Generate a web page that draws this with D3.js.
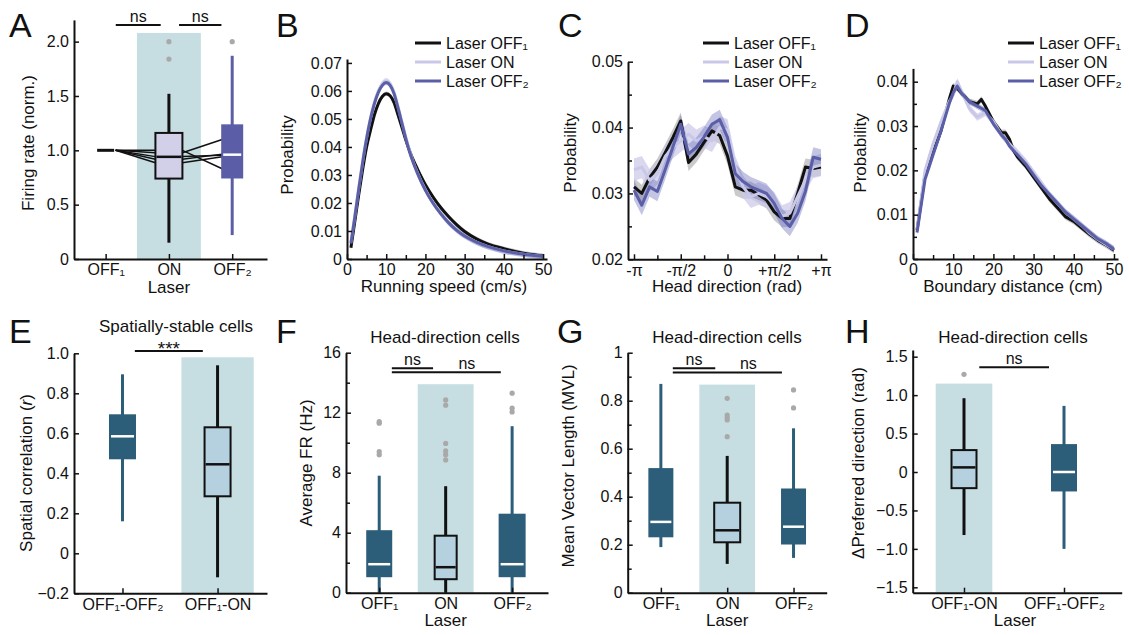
<!DOCTYPE html>
<html lang="en">
<head>
  <meta charset="UTF-8">
  <title>Laser effects on firing and behaviour</title>
  <script src="https://d3js.org/d3.v7.min.js"></script>
  <style>
    body { margin: 0; background: #fff; }
    svg text { font-family: "Liberation Sans", Arial, Helvetica, sans-serif; fill: #111; }
  </style>
</head>
<body>
  <svg id="fig" width="1129" height="635"></svg>
  <script>
    // ---------- data ----------
    const legendNames = ["Laser OFF₁", "Laser ON", "Laser OFF₂"];

    // A: normalised firing rate
    const catsA = ["OFF₁", "ON", "OFF₂"];
    const boxA = [[1, 1, 1, 1, 1], [0.15, 0.74, 0.94, 1.16, 1.52], [0.22, 0.75, 0.96, 1.23, 1.87]]; // lo, q1, med, q3, hi
    const outA = [[], [2.0, 1.84], [2.0]];
    const pairOnA = [1.0, 0.978, 0.942, 0.917, 0.886];
    const pairOff2A = [0.83, 1.10, 0.955, 0.965, 0.94];
    const sigA = [[0.16, 0.87, 2.154, "ns"], [1.16, 1.83, 2.154, "ns"]];

    // B: running speed distributions
    const speedB = [1, 2, 3, 4, 5, 6, 7, 8, 9, 10, 11, 12, 13, 14, 15, 16, 17, 18, 20, 22, 24, 26, 28, 30, 33, 36, 40, 45, 50];
    const off1B = [0.004, 0.0135, 0.023, 0.032, 0.040, 0.046, 0.0515, 0.0555, 0.058, 0.059, 0.0583, 0.0558, 0.0515, 0.047, 0.0425, 0.0385, 0.035, 0.032, 0.0265, 0.022, 0.0182, 0.015, 0.0122, 0.0098, 0.0072, 0.0053, 0.0037, 0.0021, 0.0011];
    const onB = [0.006, 0.0155, 0.0255, 0.035, 0.0435, 0.0505, 0.056, 0.060, 0.0625, 0.0635, 0.0625, 0.0595, 0.0545, 0.049, 0.0435, 0.0385, 0.0342, 0.0307, 0.0247, 0.0199, 0.0161, 0.0129, 0.0103, 0.0083, 0.006, 0.0044, 0.0029, 0.0017, 0.0009];
    const off2B = [0.0055, 0.015, 0.025, 0.0345, 0.043, 0.050, 0.0555, 0.0595, 0.062, 0.063, 0.062, 0.059, 0.054, 0.0485, 0.043, 0.038, 0.034, 0.0305, 0.0245, 0.0198, 0.016, 0.0128, 0.0102, 0.0082, 0.006, 0.0044, 0.0029, 0.0017, 0.0009];
    const semB = [0.0008, 0.0011, 0.0009];

    // C: head direction (bins in units of pi/12)
    const binsC = [-12, -11, -10, -9, -8, -7, -6, -5, -4, -3, -2, -1, 0, 1, 2, 3, 4, 5, 6, 7, 8, 9, 10, 11, 12];
    const off1C = [0.0310, 0.0300, 0.0324, 0.0340, 0.0362, 0.0385, 0.0410, 0.0347, 0.0360, 0.0378, 0.0395, 0.0388, 0.0357, 0.0310, 0.0305, 0.0305, 0.0298, 0.0290, 0.0272, 0.0262, 0.0262, 0.0300, 0.0340, 0.0338, 0.0340];
    const onC = [0.0336, 0.0340, 0.0320, 0.0330, 0.0356, 0.0370, 0.0380, 0.0390, 0.0380, 0.0386, 0.0380, 0.0400, 0.0396, 0.0340, 0.0310, 0.0295, 0.0300, 0.0295, 0.0285, 0.0265, 0.0270, 0.0295, 0.0320, 0.0340, 0.0343];
    const off2C = [0.0305, 0.0282, 0.0310, 0.0303, 0.0336, 0.0371, 0.0405, 0.0360, 0.0370, 0.0386, 0.0405, 0.0412, 0.0385, 0.0330, 0.0318, 0.0310, 0.0305, 0.0300, 0.0285, 0.0262, 0.0250, 0.0270, 0.0303, 0.0355, 0.0352];
    const semC = [0.0013, 0.0017, 0.0015];

    // D: boundary distance
    const distD = [1, 3, 5, 7, 9, 10, 11, 12, 14, 16, 17, 18, 20, 22, 23, 24, 25, 26, 28, 30, 32, 34, 36, 38, 40, 42, 44, 46, 48, 50];
    const off1D = [0.0065, 0.019, 0.024, 0.029, 0.036, 0.039, 0.0385, 0.0375, 0.0355, 0.035, 0.036, 0.0345, 0.031, 0.0285, 0.0285, 0.027, 0.0245, 0.023, 0.021, 0.0185, 0.016, 0.0135, 0.0115, 0.0095, 0.0085, 0.007, 0.0055, 0.0042, 0.0032, 0.002];
    const onD = [0.0065, 0.020, 0.026, 0.031, 0.0355, 0.037, 0.040, 0.038, 0.034, 0.032, 0.0325, 0.033, 0.031, 0.028, 0.027, 0.026, 0.025, 0.024, 0.022, 0.0195, 0.017, 0.0145, 0.0125, 0.0105, 0.009, 0.0075, 0.0058, 0.0044, 0.0033, 0.0022];
    const off2D = [0.006, 0.018, 0.0235, 0.029, 0.035, 0.0375, 0.039, 0.0375, 0.0355, 0.0345, 0.034, 0.0335, 0.0305, 0.028, 0.027, 0.0255, 0.0245, 0.0235, 0.0215, 0.019, 0.0165, 0.0145, 0.0125, 0.0105, 0.009, 0.0075, 0.006, 0.0045, 0.0035, 0.0022];
    const semD = [0.0007, 0.0008, 0.0007];

    // E: spatial correlation
    const catsE = ["OFF₁-OFF₂", "OFF₁-ON"];
    const boxE = [[0.16, 0.475, 0.585, 0.69, 0.895], [-0.12, 0.285, 0.445, 0.63, 0.94]];
    const outE = [[], []];
    const sigE = [[0.13, 0.845, 1.011, "***"]];

    // F: average firing rate
    const catsF = ["OFF₁", "ON", "OFF₂"];
    const boxF = [[0, 1.1, 1.9, 4.1, 7.8], [0, 0.9, 1.7, 3.8, 7.1], [0, 1.1, 1.9, 5.2, 11.1]];
    const outF = [[9.2, 9.4, 11.3, 11.4], [8.85, 9.2, 9.45, 9.95, 12.5, 12.85], [12.05, 12.3, 13.3]];
    const sigF = [[0.19, 0.81, 14.96, "ns", 0.5], [0.19, 1.83, 14.69, "ns", 1.32]];

    // G: mean vector length
    const catsG = ["OFF₁", "ON", "OFF₂"];
    const boxG = [[0.19, 0.235, 0.295, 0.515, 0.87], [0.12, 0.21, 0.26, 0.375, 0.57], [0.145, 0.205, 0.275, 0.43, 0.685]];
    const outG = [[], [0.65, 0.72, 0.73, 0.74, 0.81], [0.77, 0.845]];
    const sigG = [[0.18, 0.82, 0.935, "ns", 0.5], [0.18, 1.825, 0.918, "ns", 1.32]];

    // H: change of preferred direction
    const catsH = ["OFF₁-ON", "OFF₁-OFF₂"];
    const boxH = [[-0.82, -0.21, 0.06, 0.285, 0.96], [-1.0, -0.24, 0.0, 0.35, 0.86]];
    const outH = [[1.27], []];
    const sigH = [[0.153, 0.85, 1.362, "ns"]];

    // ---------- styles ----------
    const INK = "#111";
    const lineColors = ["#111111", "#c9c8e8", "#5a5fa8"];
    const bandColors = ["#8a8a8a", "#c9c8e8", "#6a6fb8"];
    const bandOpacity = [0.45, 0.7, 0.4];
    const SHADE = "#c6dee2";
    const OUTLIER = "#a9a9a9";
    const styles = {
      dark: { fill: "#2c5d79", stroke: "#2c5d79", med: "#fff", whisk: "#2c5d79" },
      light: { fill: "#b5d0de", stroke: INK, med: INK, whisk: INK },
      lav: { fill: "#d2cfe9", stroke: INK, med: INK, whisk: INK },
      purple: { fill: "#5b5ea7", stroke: "#5b5ea7", med: "#fff", whisk: "#5b5ea7" },
      flat: { fill: INK, stroke: INK, med: INK, whisk: INK }
    };

    const svg = d3.select("#fig");

    function styleAxis(g) {
      g.attr("font-family", null).attr("font-size", null);
      g.select(".domain").attr("stroke", INK).attr("stroke-width", 2);
      g.selectAll(".tick line").attr("stroke", INK).attr("stroke-width", 1.5);
      g.selectAll("text").style("font-size", "16px").attr("fill", INK);
    }

    function drawAxes(x, y, o) {
      const yb = y.range()[0], xl = x.range()[0];
      const gx = svg.append("g").attr("transform", `translate(0,${yb})`)
        .call(d3.axisBottom(x).tickValues(o.xTicks).tickFormat(o.xFormat)
          .tickSizeInner(-5).tickSizeOuter(0).tickPadding(5));
      styleAxis(gx);
      if (o.xMinor) {
        const m = svg.append("g").attr("transform", `translate(0,${yb})`)
          .call(d3.axisBottom(x).tickValues(o.xMinor).tickFormat("").tickSizeInner(-4).tickSizeOuter(0));
        m.select(".domain").remove();
        styleAxis(m);
      }
      const gy = svg.append("g").attr("transform", `translate(${xl},0)`)
        .call(d3.axisLeft(y).tickValues(o.yTicks).tickFormat(o.yFormat)
          .tickSizeInner(-5).tickSizeOuter(0).tickPadding(5));
      styleAxis(gy);
      if (o.yMinor) {
        const m = svg.append("g").attr("transform", `translate(${xl},0)`)
          .call(d3.axisLeft(y).tickValues(o.yMinor).tickFormat("").tickSizeInner(-4).tickSizeOuter(0));
        m.select(".domain").remove();
        styleAxis(m);
      }
    }

    function label(text, x, y, size, anchor) {
      return svg.append("text").attr("x", x).attr("y", y)
        .attr("text-anchor", anchor || "middle").style("font-size", size + "px").text(text);
    }

    function yLabel(text, x, y) {
      return svg.append("text").attr("transform", `translate(${x},${y}) rotate(-90)`)
        .attr("text-anchor", "middle").style("font-size", "17px").text(text);
    }

    function shade(x, y, cat, half, top) {
      svg.append("rect")
        .attr("x", x(cat - half)).attr("width", x(cat + half) - x(cat - half))
        .attr("y", y(top)).attr("height", y.range()[0] - y(top))
        .attr("fill", SHADE);
    }

    function boxes(x, y, stats, outs, widths, kinds) {
      stats.forEach((s, i) => {
        const st = styles[kinds[i]], cx = x(i), w = widths[i];
        svg.append("line").attr("x1", cx).attr("x2", cx).attr("y1", y(s[0])).attr("y2", y(s[4]))
          .attr("stroke", st.whisk).attr("stroke-width", 3);
        svg.append("rect").attr("x", cx - w / 2).attr("width", w)
          .attr("y", y(s[3])).attr("height", y(s[1]) - y(s[3]))
          .attr("fill", st.fill).attr("stroke", st.stroke).attr("stroke-width", 2);
        svg.append("line").attr("x1", cx - w / 2 + 1).attr("x2", cx + w / 2 - 1)
          .attr("y1", y(s[2])).attr("y2", y(s[2]))
          .attr("stroke", st.med).attr("stroke-width", kinds[i] === "flat" ? 3 : 2.5);
        svg.selectAll(null).data(outs[i]).enter().append("circle")
          .attr("cx", cx).attr("cy", d => y(d)).attr("r", 2.6).attr("fill", OUTLIER);
      });
    }

    function sigBars(x, y, bars) {
      bars.forEach(b => {
        svg.append("line").attr("x1", x(b[0])).attr("x2", x(b[1])).attr("y1", y(b[2])).attr("y2", y(b[2]))
          .attr("stroke", INK).attr("stroke-width", 2);
        const lx = b.length > 4 ? x(b[4]) : (x(b[0]) + x(b[1])) / 2;
        if (b[3] === "***") label(b[3], lx, y(b[2]) + 4, 19);
        else label(b[3], lx, y(b[2]) - 3, 16);
      });
    }

    function curves(x, y, xs, series, sems, curve) {
      series.forEach((vals, i) => {
        const area = d3.area().x((d, j) => x(xs[j]))
          .y0(d => y(d - sems[i])).y1(d => y(d + sems[i])).curve(curve);
        svg.append("path").datum(vals).attr("d", area)
          .attr("fill", bandColors[i]).attr("opacity", bandOpacity[i]);
      });
      series.forEach((vals, i) => {
        const line = d3.line().x((d, j) => x(xs[j])).y(d => y(d)).curve(curve);
        svg.append("path").datum(vals).attr("d", line).attr("fill", "none")
          .attr("stroke", lineColors[i]).attr("stroke-width", 3).attr("stroke-linejoin", "round");
      });
    }

    function legend(x0, y0) {
      legendNames.forEach((name, i) => {
        svg.append("line").attr("x1", x0).attr("x2", x0 + 26)
          .attr("y1", y0 + i * 19).attr("y2", y0 + i * 19)
          .attr("stroke", lineColors[i]).attr("stroke-width", 3);
        label(name, x0 + 31, y0 + i * 19, 16, "start").attr("dy", "0.36em");
      });
    }

    const f1 = d => d === 0 ? "0" : d3.format(".1f")(d);
    const f2 = d => d === 0 ? "0" : d3.format(".2f")(d);

    // ---------- A ----------
    {
      const x = d3.scaleLinear().domain([-0.5, 2.55]).range([74, 267]);
      const y = d3.scaleLinear().domain([0, 2.2]).range([259, 19.9]);
      shade(x, y, 1, 0.505, 2.08);
      pairOnA.forEach((v, i) => {
        svg.append("line").attr("x1", x(0) + 10).attr("x2", x(1) - 13.5)
          .attr("y1", y(1)).attr("y2", y(v)).attr("stroke", INK).attr("stroke-width", 1.5);
        svg.append("line").attr("x1", x(1) + 13.5).attr("x2", x(2) - 10)
          .attr("y1", y(v)).attr("y2", y(pairOff2A[i])).attr("stroke", INK).attr("stroke-width", 1.5);
      });
      boxes(x, y, boxA, outA, [19, 27, 20], ["flat", "lav", "purple"]);
      drawAxes(x, y, { xTicks: [0, 1, 2], xFormat: i => catsA[i], yTicks: [0, 0.5, 1, 1.5, 2], yFormat: f1 });
      sigBars(x, y, sigA);
      yLabel("Firing rate (norm.)", 34, 143);
      label("Laser", x(1), 293, 17);
      label("A", 9, 37, 34, "start");
    }

    // ---------- B ----------
    {
      const x = d3.scaleLinear().domain([0, 51]).range([347, 547]);
      const y = d3.scaleLinear().domain([0, 0.0714]).range([259, 59]);
      curves(x, y, speedB, [off1B, onB, off2B], semB, d3.curveMonotoneX);
      drawAxes(x, y, {
        xTicks: [0, 10, 20, 30, 40, 50], xFormat: d3.format("d"), xMinor: [5, 15, 25, 35, 45],
        yTicks: [0, 0.01, 0.02, 0.03, 0.04, 0.05, 0.06, 0.07], yFormat: f2
      });
      legend(415, 43);
      yLabel("Probability", 293, 155);
      label("Running speed (cm/s)", 444, 292, 17);
      label("B", 276, 37, 34, "start");
    }

    // ---------- C ----------
    {
      const x = d3.scaleLinear().domain([-12.77, 12.77]).range([628, 827]);
      const y = d3.scaleLinear().domain([0.02, 0.05]).range([259.3, 61.7]);
      curves(x, y, binsC, [off1C, onC, off2C], semC, d3.curveLinear);
      const piLab = { "-12": "-π", "-6": "-π/2", "0": "0", "6": "+π/2", "12": "+π" };
      drawAxes(x, y, {
        xTicks: [-12, -6, 0, 6, 12], xFormat: d => piLab[d], xMinor: [-9, -3, 3, 9],
        yTicks: [0.02, 0.03, 0.04, 0.05], yFormat: f2, yMinor: [0.025, 0.035, 0.045]
      });
      legend(703, 43);
      yLabel("Probability", 576, 153);
      label("Head direction (rad)", 727, 292, 17);
      label("C", 558, 37, 34, "start");
    }

    // ---------- D ----------
    {
      const x = d3.scaleLinear().domain([0, 51]).range([913, 1118]);
      const y = d3.scaleLinear().domain([0, 0.043]).range([259, 68.4]);
      curves(x, y, distD, [off1D, onD, off2D], semD, d3.curveLinear);
      drawAxes(x, y, {
        xTicks: [0, 10, 20, 30, 40, 50], xFormat: d3.format("d"), xMinor: [5, 15, 25, 35, 45],
        yTicks: [0, 0.01, 0.02, 0.03, 0.04], yFormat: f2, yMinor: [0.005, 0.015, 0.025, 0.035]
      });
      legend(1008, 43);
      yLabel("Probability", 866, 153);
      label("Boundary distance (cm)", 1013, 292, 17);
      label("D", 845, 37, 34, "start");
    }

    // ---------- E ----------
    {
      const x = d3.scaleLinear().domain([-0.51, 1.52]).range([74, 267]);
      const y = d3.scaleLinear().domain([-0.2, 1.0]).range([593.3, 353.3]);
      shade(x, y, 1, 0.38, 0.98);
      boxes(x, y, boxE, outE, [25, 26], ["dark", "light"]);
      drawAxes(x, y, {
        xTicks: [0, 1], xFormat: i => catsE[i],
        yTicks: [-0.2, 0, 0.2, 0.4, 0.6, 0.8, 1.0], yFormat: f1
      });
      sigBars(x, y, sigE);
      const t = svg.append("text").attr("transform", "translate(32,473) rotate(-90)")
        .attr("text-anchor", "middle").style("font-size", "17px");
      t.append("tspan").text("Spatial correlation (");
      t.append("tspan").style("font-style", "italic").text("r");
      t.append("tspan").text(")");
      label("Spatially-stable cells", 176, 332, 17);
      label("E", 9, 343, 34, "start");
    }

    // ---------- F ----------
    {
      const x = d3.scaleLinear().domain([-0.5, 2.54]).range([346, 548]);
      const y = d3.scaleLinear().domain([0, 16]).range([592.7, 352.7]);
      shade(x, y, 1, 0.42, 13.9);
      boxes(x, y, boxF, outF, [24, 22, 25], ["dark", "light", "dark"]);
      drawAxes(x, y, {
        xTicks: [0, 1, 2], xFormat: i => catsF[i],
        yTicks: [0, 4, 8, 12, 16], yFormat: d3.format("d"), yMinor: [2, 6, 10, 14]
      });
      sigBars(x, y, sigF);
      yLabel("Average FR (Hz)", 312, 463);
      label("Head-direction cells", 445, 343, 17);
      label("Laser", x(1), 626, 17);
      label("F", 276, 343, 34, "start");
    }

    // ---------- G ----------
    {
      const x = d3.scaleLinear().domain([-0.5, 2.5]).range([627.7, 826.7]);
      const y = d3.scaleLinear().domain([0, 1]).range([592.7, 352.7]);
      shade(x, y, 1, 0.42, 0.867);
      boxes(x, y, boxG, outG, [23, 26, 23], ["dark", "light", "dark"]);
      drawAxes(x, y, {
        xTicks: [0, 1, 2], xFormat: i => catsG[i],
        yTicks: [0, 0.2, 0.4, 0.6, 0.8, 1], yFormat: d => (d === 0 || d === 1) ? String(d) : d3.format(".1f")(d),
        yMinor: [0.1, 0.3, 0.5, 0.7, 0.9]
      });
      sigBars(x, y, sigG);
      yLabel("Mean Vector Length (MVL)", 574, 466);
      label("Head-direction cells", 727, 343, 17);
      label("Laser", x(1), 626, 17);
      label("G", 557, 343, 34, "start");
    }

    // ---------- H ----------
    {
      const x = d3.scaleLinear().domain([-0.513, 1.577]).range([912.7, 1121.7]);
      const y = d3.scaleLinear().domain([-1.57, 1.587]).range([592.7, 350]);
      shade(x, y, 0, 0.283, 1.15);
      boxes(x, y, boxH, outH, [25, 24], ["light", "dark"]);
      drawAxes(x, y, {
        xTicks: [0, 1], xFormat: i => catsH[i],
        yTicks: [-1.5, -1, -0.5, 0, 0.5, 1, 1.5], yFormat: f1
      });
      sigBars(x, y, sigH);
      yLabel("ΔPreferred direction (rad)", 864, 463);
      label("Head-direction cells", 1013, 343, 17);
      label("Laser", 1015, 626, 17);
      label("H", 845, 343, 34, "start");
    }
  </script>
</body>
</html>
